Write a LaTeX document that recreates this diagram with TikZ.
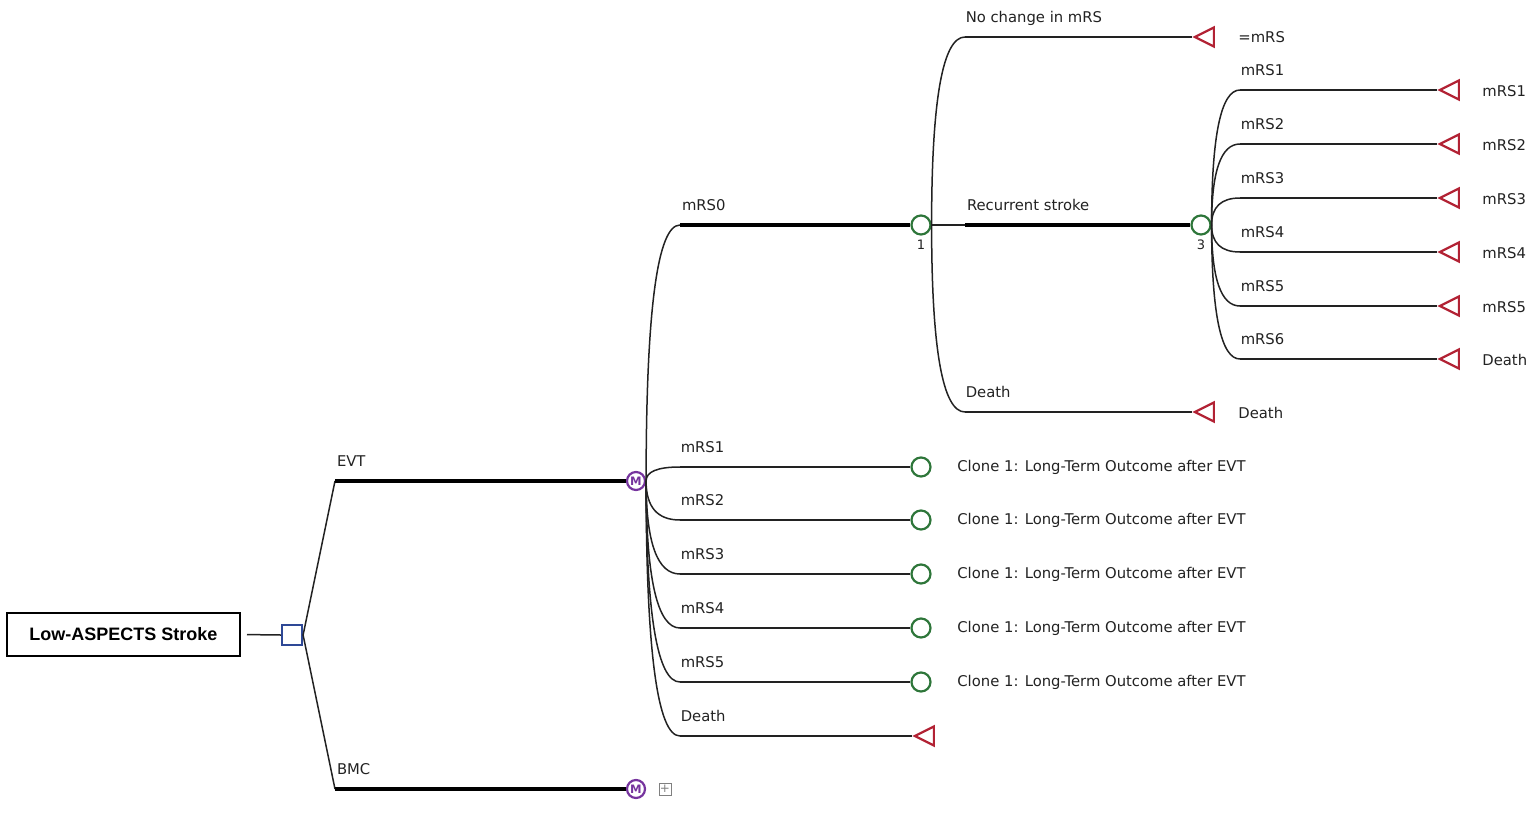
\documentclass[tikz,border=0pt]{standalone}
\usepackage{fontspec}
\setmainfont{DejaVu Sans}
\newfontfamily\boxfont{Liberation Sans}
\usepackage{tikz}
\usetikzlibrary{shapes.geometric,calc}

\definecolor{decblue}{RGB}{46,72,150}
\definecolor{markovpurple}{RGB}{118,52,158}
\definecolor{chancegreen}{RGB}{46,118,58}
\definecolor{termred}{RGB}{178,34,52}
\definecolor{inkgray}{RGB}{34,34,34}

\begin{document}
\begin{tikzpicture}[x=0.5pt, y=-0.5pt, font=\fontsize{7.4}{9}\selectfont, text=inkgray,
    branch/.style={draw=inkgray, line width=0.75pt},
    best/.style={draw=black, line width=2pt},
    treearc/.style={to path={.. controls ($(\tikztostart)!0.667!(\tikztostart |- \tikztotarget)$) and ($(\tikztotarget)!0.667!(\tikztostart |- \tikztotarget)$) .. (\tikztotarget)}},
    rootbox/.style={shape=rectangle, draw=black, line width=1pt, minimum width=116.5pt, minimum height=21.5pt, text=black, font=\boxfont\bfseries\fontsize{9}{11}\selectfont},
    decision/.style={shape=rectangle, draw=decblue, line width=1.1pt, minimum size=10pt, inner sep=0pt},
    markov/.style={shape=circle, draw=markovpurple, line width=1.1pt, minimum size=9pt, inner sep=0pt, text=markovpurple, font=\fontsize{5.8}{5.8}\selectfont\bfseries},
    collapsed/.style={shape=rectangle, draw=gray, line width=0.5pt, minimum size=6pt, inner sep=0pt, text=gray, font=\fontsize{6}{6}\selectfont},
    chance/.style={shape=circle, draw=chancegreen, line width=1.1pt, minimum size=9.5pt, inner sep=0pt},
    terminal/.style={shape=isosceles triangle, shape border rotate=180, isosceles triangle stretches, draw=termred, line width=1.1pt, minimum width=9.5pt, minimum height=9.5pt, inner sep=0pt, anchor=apex},
    nodeid/.style={inner sep=0pt, font=\fontsize{6.5}{6.5}\selectfont},
    lbl/.style={pos=0, anchor=base west, inner sep=0pt, yshift=7.5pt},
    clone/.style={anchor=west, inner sep=0pt}]
    \useasboundingbox (0,0) rectangle (1532,814);
    \node[rootbox] at (123.5,634.5) (root) {Low-ASPECTS Stroke};
    \node[decision] at (292,635) (D0) {};
    \node[markov] at (636,481) (M0) {M};
    \node[markov] at (636,789) (M1) {M};
    \node[collapsed] at (665,789) (M1plus) {+};
    \node[chance] at (921,225) (C1) {};
    \node[nodeid] at (921,245) (C1id) {1};
    \node[chance] at (1201,225) (C3) {};
    \node[nodeid] at (1201,245) (C3id) {3};
    \node[chance] at (921,467) (K1) {};
    \node[chance] at (921,520) (K2) {};
    \node[chance] at (921,574) (K3) {};
    \node[chance] at (921,628) (K4) {};
    \node[chance] at (921,682) (K5) {};
    \node[terminal] at (912,736) (T0) {};
    \node[terminal] at (1192,37) (T1) {};
    \node[terminal] at (1192,412) (T2) {};
    \node[terminal] at (1437,90) (S1) {};
    \node[terminal] at (1437,144) (S2) {};
    \node[terminal] at (1437,198) (S3) {};
    \node[terminal] at (1437,252) (S4) {};
    \node[terminal] at (1437,306) (S5) {};
    \node[terminal] at (1437,359) (S6) {};

    \node[clone] at (957,467) (K1txt) {Clone 1: Long-Term Outcome after EVT};
    \node[clone] at (957,520) (K2txt) {Clone 1: Long-Term Outcome after EVT};
    \node[clone] at (957,574) (K3txt) {Clone 1: Long-Term Outcome after EVT};
    \node[clone] at (957,628) (K4txt) {Clone 1: Long-Term Outcome after EVT};
    \node[clone] at (957,682) (K5txt) {Clone 1: Long-Term Outcome after EVT};
    \node[clone] at (1238,37) (T1txt) {=mRS};
    \node[clone] at (1238,413) (T2txt) {Death};
    \node[clone] at (1482,91) (S1txt) {mRS1};
    \node[clone] at (1482,145) (S2txt) {mRS2};
    \node[clone] at (1482,199) (S3txt) {mRS3};
    \node[clone] at (1482,253) (S4txt) {mRS4};
    \node[clone] at (1482,307) (S5txt) {mRS5};
    \node[clone] at (1482,360) (S6txt) {Death};

    \coordinate (E0) at (335,481);
    \coordinate (E1) at (335,789);
    \coordinate (B0) at (680,225);
    \coordinate (B1) at (680,467);
    \coordinate (B2) at (680,520);
    \coordinate (B3) at (680,574);
    \coordinate (B4) at (680,628);
    \coordinate (B5) at (680,682);
    \coordinate (B6) at (680,736);
    \coordinate (R0) at (965,37);
    \coordinate (R1) at (965,225);
    \coordinate (R2) at (965,412);
    \coordinate (N1) at (1240,90);
    \coordinate (N2) at (1240,144);
    \coordinate (N3) at (1240,198);
    \coordinate (N4) at (1240,252);
    \coordinate (N5) at (1240,306);
    \coordinate (N6) at (1240,359);

    \draw[branch, shorten <=3pt] (root.east) -- (D0.west);
    \draw[branch] (D0.east) -- (E0);
    \draw[branch] (D0.east) -- (E1);
    \draw[best] (E0) -- node[lbl] {EVT} (M0);
    \draw[best] (E1) -- node[lbl] {BMC} (M1);

    \draw[branch] (M0.east) to[treearc] (B0);
    \draw[branch] (M0.east) to[treearc] (B1);
    \draw[branch] (M0.east) to[treearc] (B2);
    \draw[branch] (M0.east) to[treearc] (B3);
    \draw[branch] (M0.east) to[treearc] (B4);
    \draw[branch] (M0.east) to[treearc] (B5);
    \draw[branch] (M0.east) to[treearc] (B6);
    \draw[best] (B0) -- node[lbl] {mRS0} (C1);
    \draw[branch] (B1) -- node[lbl] {mRS1} (K1);
    \draw[branch] (B2) -- node[lbl] {mRS2} (K2);
    \draw[branch] (B3) -- node[lbl] {mRS3} (K3);
    \draw[branch] (B4) -- node[lbl] {mRS4} (K4);
    \draw[branch] (B5) -- node[lbl] {mRS5} (K5);
    \draw[branch] (B6) -- node[lbl] {Death} (T0.apex);

    \draw[branch] (C1.east) to[treearc] (R0);
    \draw[branch] (C1.east) -- (R1);
    \draw[branch] (C1.east) to[treearc] (R2);
    \draw[branch] (R0) -- node[lbl] {No change in mRS} (T1.apex);
    \draw[best] (R1) -- node[lbl] {Recurrent stroke} (C3);
    \draw[branch] (R2) -- node[lbl] {Death} (T2.apex);

    \draw[branch] (C3.east) to[treearc] (N1);
    \draw[branch] (C3.east) to[treearc] (N2);
    \draw[branch] (C3.east) to[treearc] (N3);
    \draw[branch] (C3.east) to[treearc] (N4);
    \draw[branch] (C3.east) to[treearc] (N5);
    \draw[branch] (C3.east) to[treearc] (N6);
    \draw[branch] (N1) -- node[lbl] {mRS1} (S1.apex);
    \draw[branch] (N2) -- node[lbl] {mRS2} (S2.apex);
    \draw[branch] (N3) -- node[lbl] {mRS3} (S3.apex);
    \draw[branch] (N4) -- node[lbl] {mRS4} (S4.apex);
    \draw[branch] (N5) -- node[lbl] {mRS5} (S5.apex);
    \draw[branch] (N6) -- node[lbl] {mRS6} (S6.apex);
\end{tikzpicture}
\end{document}
